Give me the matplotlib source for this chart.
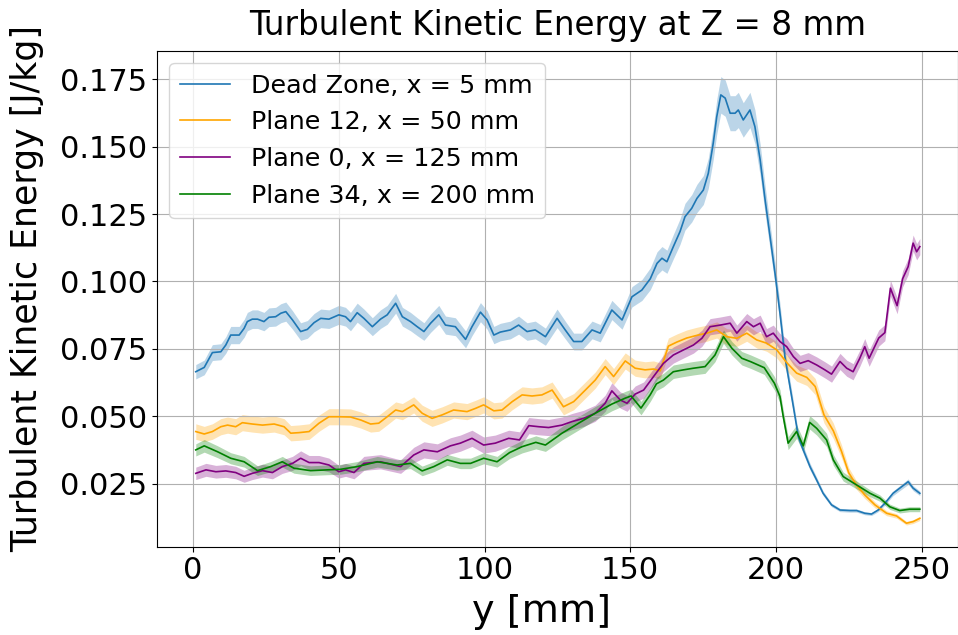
import numpy as np
import matplotlib
matplotlib.use("Agg")
import matplotlib.pyplot as plt

# ----------------------------------------------------------------------
# DATA
# ----------------------------------------------------------------------
dead_y = [0.9, 3.8, 6.6, 9.5, 11.2, 12.9, 15.8, 17.5, 18.6, 20.3, 22.1, 24.3, 26.0,
          28.3, 30.1, 31.8, 34.1, 36.9, 39.2, 41.5, 43.8, 46.6, 50.0, 52.3, 54.0,
          56.3, 58.6, 61.5, 64.3, 66.6, 69.5, 71.8, 74.6, 76.9, 79.2, 81.5, 84.3,
          86.6, 90.0, 93.5, 95.7, 98.6, 100.9, 103.2, 105.4, 108.9, 111.7, 114.6,
          117.4, 120.9, 124.9, 127.7, 130.6, 133.4, 136.9, 139.7, 143.7, 147.2,
          150.6, 154.0, 156.9, 159.2, 160.9, 162.6, 164.8, 167.1, 168.8, 171.1,
          172.9, 175.1, 176.8, 178.5, 179.7, 181.1, 182.6, 184.3, 186.0, 187.1,
          188.8, 191.1, 192.8, 194.6, 196.3, 198.0, 199.7, 201.4, 203.1, 206.0,
          207.7, 209.4, 211.7, 214.0, 216.2, 219.1, 222.0, 225.4, 227.7, 230.5,
          232.8, 235.1, 237.4, 240.2, 242.5, 245.4, 247.1, 249.4]
dead_k = [0.0665, 0.0681, 0.0736, 0.0739, 0.0764, 0.0801, 0.0801, 0.0826, 0.0851,
          0.0860, 0.0860, 0.0851, 0.0867, 0.0869, 0.0882, 0.0888, 0.0857, 0.0814,
          0.0822, 0.0847, 0.0863, 0.0860, 0.0876, 0.0869, 0.0851, 0.0884, 0.0863,
          0.0832, 0.0860, 0.0876, 0.0919, 0.0869, 0.0851, 0.0832, 0.0814, 0.0845,
          0.0876, 0.0838, 0.0832, 0.0785, 0.0832, 0.0886, 0.0857, 0.0801, 0.0812,
          0.0820, 0.0838, 0.0814, 0.0820, 0.0795, 0.0863, 0.0820, 0.0777, 0.0777,
          0.0820, 0.0808, 0.0894, 0.0857, 0.0943, 0.0968, 0.1010, 0.1067, 0.1086,
          0.1073, 0.1129, 0.1185, 0.1240, 0.1271, 0.1308, 0.1339, 0.1401, 0.1513,
          0.1611, 0.1692, 0.1680, 0.1624, 0.1624, 0.1636, 0.1599, 0.1636, 0.1574,
          0.1451, 0.1302, 0.1166, 0.1030, 0.0882, 0.0720, 0.0535, 0.0424, 0.0375,
          0.0313, 0.0263, 0.0214, 0.0171, 0.0152, 0.0150, 0.0150, 0.0140, 0.0137,
          0.0152, 0.0177, 0.0214, 0.0233, 0.0257, 0.0233, 0.0214]

p12_y = [0.9, 3.8, 6.6, 9.5, 11.8, 14.6, 16.9, 20.3, 23.8, 27.8, 31.2, 33.5, 36.3,
         39.8, 43.2, 46.6, 50.0, 54.0, 57.5, 60.9, 63.7, 66.6, 69.5, 71.8, 75.7,
         78.6, 82.0, 85.5, 89.4, 94.0, 96.9, 99.7, 103.2, 106.0, 109.5, 112.9,
         116.3, 119.7, 123.2, 127.1, 130.6, 134.6, 138.0, 141.4, 144.3, 148.3,
         151.7, 155.1, 158.0, 160.3, 163.1, 166.0, 169.4, 172.9, 176.3, 179.7,
         183.1, 186.6, 190.0, 193.4, 196.8, 200.3, 203.7, 207.1, 210.6, 213.5,
         216.5, 219.7, 222.5, 225.0, 227.6, 230.5, 234.0, 238.0, 241.4, 244.8,
         247.1, 249.4]
p12_k = [0.0443, 0.0434, 0.0443, 0.0461, 0.0467, 0.0461, 0.0476, 0.0471, 0.0467,
         0.0471, 0.0461, 0.0437, 0.0439, 0.0443, 0.0474, 0.0498, 0.0498, 0.0497,
         0.0486, 0.0471, 0.0474, 0.0498, 0.0523, 0.0517, 0.0542, 0.0511, 0.0492,
         0.0505, 0.0523, 0.0517, 0.0529, 0.0542, 0.0520, 0.0523, 0.0554, 0.0579,
         0.0575, 0.0579, 0.0597, 0.0535, 0.0554, 0.0597, 0.0634, 0.0684, 0.0647,
         0.0705, 0.0678, 0.0672, 0.0675, 0.0668, 0.0760, 0.0775, 0.0790, 0.0800,
         0.0808, 0.0820, 0.0795, 0.0789, 0.0808, 0.0783, 0.0771, 0.0746, 0.0699,
         0.0660, 0.0644, 0.0610, 0.0505, 0.0446, 0.0370, 0.0290, 0.0245, 0.0208,
         0.0171, 0.0140, 0.0130, 0.0103, 0.0109, 0.0121]

p0_y = [0.9, 4.4, 7.8, 11.2, 14.6, 17.5, 20.3, 23.8, 27.2, 30.6, 34.1, 36.9, 39.8,
        43.2, 46.6, 50.0, 52.3, 55.2, 58.6, 64.3, 71.2, 75.7, 79.2, 83.8, 88.3,
        91.7, 95.7, 99.7, 103.7, 108.3, 112.0, 115.2, 118.6, 122.0, 126.6, 130.0,
        134.0, 138.0, 141.4, 143.7, 146.6, 148.9, 151.7, 154.6, 158.0, 161.4,
        164.8, 168.3, 171.7, 174.6, 177.4, 180.9, 184.3, 186.6, 190.0, 192.3,
        194.6, 196.8, 199.1, 201.4, 203.7, 206.0, 208.3, 211.1, 214.0, 216.8,
        219.1, 222.0, 224.3, 226.5, 228.8, 230.5, 232.0, 235.3, 237.4, 239.3,
        241.6, 243.5, 245.4, 247.1, 248.3, 249.4]
p0_k = [0.0288, 0.0301, 0.0294, 0.0297, 0.0291, 0.0277, 0.0288, 0.0298, 0.0291,
        0.0313, 0.0325, 0.0344, 0.0328, 0.0328, 0.0319, 0.0294, 0.0301, 0.0291,
        0.0325, 0.0331, 0.0313, 0.0356, 0.0375, 0.0368, 0.0390, 0.0400, 0.0418,
        0.0393, 0.0400, 0.0418, 0.0412, 0.0465, 0.0461, 0.0458, 0.0467, 0.0480,
        0.0492, 0.0511, 0.0548, 0.0594, 0.0560, 0.0548, 0.0582, 0.0597, 0.0647,
        0.0696, 0.0727, 0.0746, 0.0764, 0.0789, 0.0832, 0.0838, 0.0845, 0.0808,
        0.0851, 0.0832, 0.0845, 0.0795, 0.0808, 0.0777, 0.0758, 0.0721, 0.0696,
        0.0706, 0.0690, 0.0672, 0.0656, 0.0703, 0.0678, 0.0665, 0.0715, 0.0758,
        0.0715, 0.0790, 0.0810, 0.0975, 0.0910, 0.1010, 0.1055, 0.1142, 0.1110,
        0.1129]

p34_y = [0.9, 3.8, 8.4, 12.9, 17.5, 22.1, 26.6, 30.6, 34.6, 40.3, 46.1, 50.6, 56.3,
         63.2, 70.0, 74.6, 78.6, 82.6, 87.2, 91.7, 95.2, 99.7, 104.3, 108.6, 112.9,
         117.6, 120.9, 126.6, 132.3, 138.0, 143.7, 148.3, 150.3, 153.7, 156.9,
         159.0, 161.4, 164.8, 168.3, 171.7, 175.7, 179.1, 182.0, 184.9, 188.3,
         191.4, 196.0, 199.5, 201.4, 202.5, 204.2, 207.1, 209.4, 211.6, 214.0,
         217.4, 219.7, 223.1, 227.7, 232.3, 235.7, 239.1, 242.5, 245.9, 249.4]
p34_k = [0.0375, 0.0390, 0.0368, 0.0344, 0.0331, 0.0298, 0.0313, 0.0331, 0.0307,
         0.0298, 0.0301, 0.0303, 0.0313, 0.0331, 0.0319, 0.0325, 0.0297, 0.0313,
         0.0338, 0.0325, 0.0325, 0.0344, 0.0331, 0.0365, 0.0387, 0.0403, 0.0393,
         0.0437, 0.0474, 0.0511, 0.0545, 0.0567, 0.0575, 0.0530, 0.0580, 0.0620,
         0.0634, 0.0665, 0.0672, 0.0678, 0.0684, 0.0727, 0.0795, 0.0752, 0.0715,
         0.0702, 0.0680, 0.0622, 0.0573, 0.0500, 0.0400, 0.0443, 0.0390, 0.0477,
         0.0455, 0.0412, 0.0338, 0.0276, 0.0245, 0.0214, 0.0196, 0.0164, 0.0150,
         0.0155, 0.0155]

labels = ["Dead Zone, x = 5 mm", "Plane 12, x = 50 mm",
          "Plane 0, x = 125 mm", "Plane 34, x = 200 mm"]

# ----------------------------------------------------------------------
# STYLE
# ----------------------------------------------------------------------
colors = ["#1f77b4", "orange", "purple", "green"]
# shaded band half-width: fraction of value, capped
band_rel = [0.04, 0.065, 0.08, 0.06]
band_cap = [0.01, 0.003, 0.003, 0.0025]

fig = plt.figure(figsize=(9.58, 6.35), dpi=100)
ax = fig.add_axes([0.1636, 0.1391, 0.8364, 0.7811])

series = [(dead_y, dead_k), (p12_y, p12_k), (p0_y, p0_k), (p34_y, p34_k)]
for (xs, ks), lab, c, rel, cap in zip(series, labels, colors, band_rel, band_cap):
    xs = np.asarray(xs)
    ks = np.asarray(ks)
    half = np.minimum(ks * rel, cap)
    ax.fill_between(xs, ks - half, ks + half, color=c, alpha=0.3, linewidth=0)
    ax.plot(xs, ks, color=c, linewidth=1.2, label=lab)

ax.set_xlim(-12.5, 262.5)
ax.set_ylim(0.0016, 0.1856)
ax.set_xticks([0, 50, 100, 150, 200, 250])
ax.set_yticks([0.025, 0.050, 0.075, 0.100, 0.125, 0.150, 0.175])
ax.tick_params(labelsize=22)
ax.grid(True)

ax.set_title("Turbulent Kinetic Energy at Z = 8 mm", fontsize=23.5, pad=11)
ax.set_xlabel("y [mm]", fontsize=27.5)
ax.set_ylabel("Turbulent Kinetic Energy [J/kg]", fontsize=25)
ax.xaxis.set_label_coords(0.48, -0.096)
ax.yaxis.set_label_coords(-0.14, 0.52)
ax.legend(loc="upper left", fontsize=18.3)

fig.savefig("out.png", dpi=100)
